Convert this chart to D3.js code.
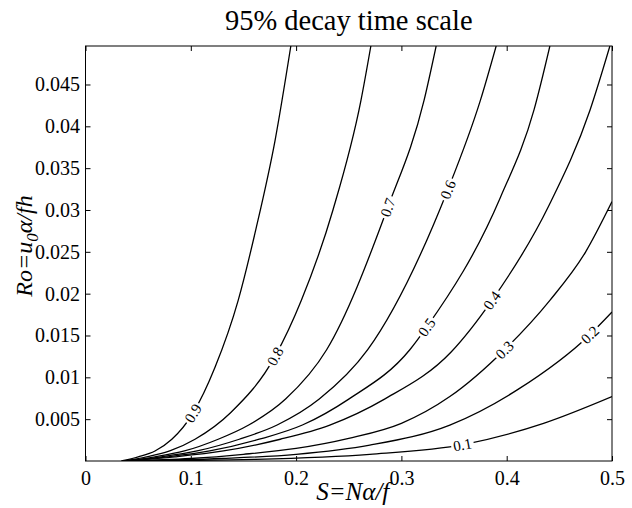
<!DOCTYPE html>
<html>
<head>
<meta charset="utf-8">
<script src="https://cdn.jsdelivr.net/npm/d3@7"></script>
<style>
  body { margin: 0; background: #fff; }
  svg text { font-family: "Liberation Serif", "Times New Roman", "DejaVu Serif", serif; fill: #000; }
</style>
</head>
<body>
<div id="chart"></div>
<script>
// contour levels and the (S, Ro) points
var levels = [0.1, 0.2, 0.3, 0.4, 0.5, 0.6, 0.7, 0.8, 0.9];

var contourS = [
  [0.040, 0.160, 0.270, 0.360, 0.435, 0.500],
  [0.040, 0.130, 0.200, 0.270, 0.346, 0.410, 0.479, 0.500],
  [0.038, 0.100, 0.150, 0.200, 0.250, 0.300, 0.346, 0.398, 0.441, 0.475, 0.500],
  [0.038, 0.085, 0.131, 0.185, 0.232, 0.284, 0.347, 0.386, 0.440, 0.479, 0.498],
  [0.037, 0.078, 0.118, 0.165, 0.206, 0.250, 0.308, 0.324, 0.394, 0.426, 0.441],
  [0.037, 0.072, 0.106, 0.146, 0.182, 0.222, 0.268, 0.344, 0.375, 0.390],
  [0.037, 0.066, 0.094, 0.126, 0.155, 0.190, 0.229, 0.287, 0.3215, 0.333],
  [0.036, 0.058, 0.080, 0.104, 0.138, 0.180, 0.205, 0.235, 0.2616, 0.271],
  [0.034, 0.050, 0.066, 0.082, 0.102, 0.123, 0.145, 0.162, 0.180, 0.195]
];

var contourRo = [
  [0, 0.0002, 0.0008, 0.0020, 0.0045, 0.0077],
  [0, 0.0003, 0.0008, 0.0019, 0.0043, 0.0085, 0.0151, 0.0178],
  [0, 0.0003, 0.0008, 0.0015, 0.0027, 0.0045, 0.0077, 0.0133, 0.0192, 0.0250, 0.0310],
  [0, 0.0005, 0.0012, 0.0026, 0.0043, 0.0074, 0.0130, 0.0192, 0.0305, 0.0419, 0.0496],
  [0, 0.0005, 0.0012, 0.0026, 0.0043, 0.0074, 0.0133, 0.0160, 0.0315, 0.0420, 0.0496],
  [0, 0.0005, 0.0012, 0.0026, 0.0043, 0.0074, 0.0133, 0.0324, 0.0431, 0.0496],
  [0, 0.0005, 0.0012, 0.0026, 0.0043, 0.0074, 0.0133, 0.0303, 0.0431, 0.0496],
  [0, 0.0005, 0.0012, 0.0026, 0.0058, 0.0125, 0.0192, 0.0300, 0.0431, 0.0496],
  [0, 0.0005, 0.0012, 0.0026, 0.0057, 0.0112, 0.0192, 0.0278, 0.0383, 0.0496]
];

// S position of the inline label on each curve
var labelS = [0.358, 0.479, 0.398, 0.386, 0.324, 0.344, 0.287, 0.180, 0.102];

var xTicks = [0, 0.1, 0.2, 0.3, 0.4, 0.5];
var yTicks = [0.005, 0.01, 0.015, 0.02, 0.025, 0.03, 0.035, 0.04, 0.045];

var _width = 632, _height = 508,
  _margin = {top: 46, right: 20, bottom: 47, left: 85.5},
  _innerW = _width - _margin.left - _margin.right,
  _innerH = _height - _margin.top - _margin.bottom;

var x = d3.scaleLinear().domain([0, 0.5]).range([0, _innerW]);
var y = d3.scaleLinear().domain([0, 0.0496]).range([_innerH, 0]);

var svg = d3.select("#chart").append("svg")
  .attr("width", _width)
  .attr("height", _height);

svg.append("text")
  .attr("x", _margin.left + _innerW / 2)
  .attr("y", 30)
  .attr("text-anchor", "middle")
  .style("font-size", "28.5px")
  .text("95% decay time scale");

var g = svg.append("g")
  .attr("transform", "translate(" + _margin.left + "," + _margin.top + ")");

g.append("clipPath").attr("id", "plotClip")
  .append("rect")
  .attr("width", _innerW)
  .attr("height", _innerH);

var line = d3.line()
  .x(function (d) { return x(d[0]); })
  .y(function (d) { return y(d[1]); })
  .curve(d3.curveMonotoneX);

var plot = g.append("g").attr("clip-path", "url(#plotClip)");

var paths = plot.selectAll("path.contour")
  .data(levels)
  .enter()
  .append("path")
  .attr("class", "contour")
  .attr("fill", "none")
  .attr("stroke", "#000")
  .attr("stroke-width", 1.3)
  .attr("d", function (d, i) {
    return line(d3.zip(contourS[i], contourRo[i]));
  });

// inline labels, rotated along the curve
paths.each(function (lev, i) {
  var node = this,
    total = node.getTotalLength(),
    target = x(labelS[i]),
    best = 0, bestDist = Infinity;
  for (var l = 0; l <= total; l += 0.5) {
    var p = node.getPointAtLength(l);
    var dist = Math.abs(p.x - target);
    if (dist < bestDist) { bestDist = dist; best = l; }
  }
  var p0 = node.getPointAtLength(Math.max(0, best - 5)),
    p1 = node.getPointAtLength(Math.min(total, best + 5)),
    pc = node.getPointAtLength(best),
    angle = Math.atan2(p1.y - p0.y, p1.x - p0.x) * 180 / Math.PI;

  var lab = plot.append("g")
    .attr("transform", "translate(" + pc.x + "," + pc.y + ") rotate(" + angle + ")");
  var t = lab.append("text")
    .attr("text-anchor", "middle")
    .attr("dy", "0.35em")
    .style("font-size", "15px")
    .text(d3.format(".1f")(lev));
  var bb = t.node().getBBox();
  lab.insert("rect", "text")
    .attr("x", bb.x - 2)
    .attr("y", -4)
    .attr("width", bb.width + 4)
    .attr("height", 8)
    .attr("fill", "#fff");
});

// axes, ticks pointing inward like the original
var axisBottom = d3.axisBottom(x).tickValues(xTicks).tickSize(-5).tickPadding(10)
  .tickFormat(function (d) { return d === 0 ? "0" : d3.format(".1f")(d); });
var axisTop = d3.axisTop(x).tickValues(xTicks).tickSize(-5).tickFormat("");
var axisLeft = d3.axisLeft(y).tickValues(yTicks).tickSize(-5).tickPadding(5.5)
  .tickFormat(function (d) { return String(+d.toFixed(3)); });
var axisRight = d3.axisRight(y).tickValues(yTicks).tickSize(-5).tickFormat("");

g.append("g").attr("transform", "translate(0," + _innerH + ")").call(axisBottom);
g.append("g").call(axisTop);
g.append("g").call(axisLeft);
g.append("g").attr("transform", "translate(" + _innerW + ",0)").call(axisRight);

g.selectAll(".domain").remove();
g.selectAll(".tick line").attr("stroke", "#000");
g.selectAll(".tick text")
  .attr("font-family", null)
  .style("font-size", "20px");

g.append("rect")
  .attr("width", _innerW)
  .attr("height", _innerH)
  .attr("fill", "none")
  .attr("stroke", "#000")
  .attr("stroke-width", 1);

// axis titles
svg.append("text")
  .attr("x", _margin.left + _innerW / 2 + 4)
  .attr("y", 500)
  .attr("text-anchor", "middle")
  .style("font-size", "25px")
  .style("font-style", "italic")
  .text("S=N\u03b1/f");

var yl = svg.append("text")
  .attr("transform", "translate(31.5,246) rotate(-90)")
  .attr("text-anchor", "middle")
  .style("font-size", "24px")
  .style("font-style", "italic");
yl.append("tspan").text("Ro=u");
yl.append("tspan").attr("dy", 6).style("font-size", "17px").text("0");
yl.append("tspan").attr("dy", -6).text("\u03b1/fh");
</script>
</body>
</html>
